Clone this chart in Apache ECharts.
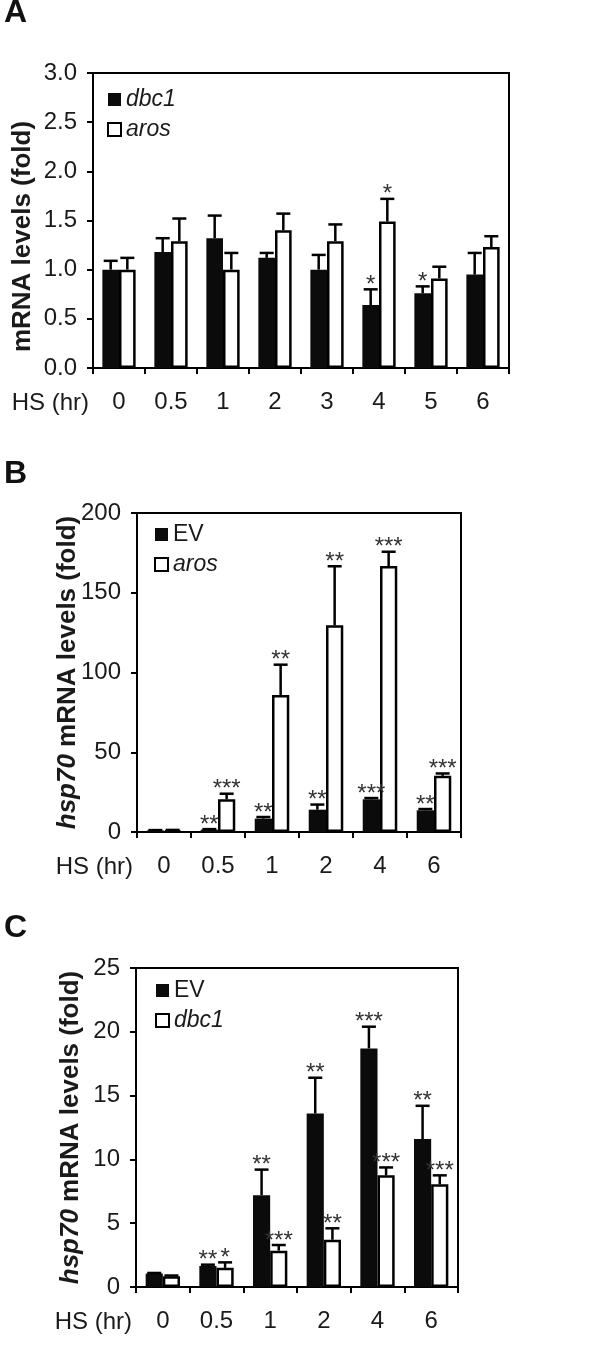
<!DOCTYPE html>
<html>
<head>
<meta charset="utf-8">
<script src="https://cdn.jsdelivr.net/npm/echarts@6/dist/echarts.min.js"></script>
<style>
html,body{margin:0;padding:0;background:#fff;}
#chart{width:611px;height:1353px;}
</style>
</head>
<body>
<div id="chart"></div>
<script>
// ---------- Panel A ----------
const catsA = ['0', '0.5', '1', '2', '3', '4', '5', '6'];
const dbc1A = [1.00, 1.18, 1.32, 1.12, 1.00, 0.64, 0.76, 0.95];
const dbc1AErr = [0.09, 0.14, 0.23, 0.05, 0.15, 0.16, 0.07, 0.22];
const dbc1ASig = ['', '', '', '', '', '*', '*', ''];
const arosA = [1.00, 1.29, 1.00, 1.40, 1.29, 1.49, 0.91, 1.23];
const arosAErr = [0.12, 0.23, 0.17, 0.17, 0.17, 0.23, 0.12, 0.11];
const arosASig = ['', '', '', '', '', '*', '', ''];

// ---------- Panel B ----------
const catsB = ['0', '0.5', '1', '2', '4', '6'];
const evB = [1.0, 1.5, 8.4, 14.0, 20.5, 13.6];
const evBErr = [0.2, 0.3, 1.0, 3.2, 0.8, 0.8];
const evBSig = ['', '**', '**', '**', '***', '**'];
const arosB = [1.0, 20.5, 85.9, 129.6, 166.7, 35.2];
const arosBErr = [0.3, 3.5, 19.0, 37.0, 9.0, 1.5];
const arosBSig = ['', '***', '**', '**', '***', '***'];

// ---------- Panel C ----------
const catsC = ['0', '0.5', '1', '2', '4', '6'];
const evC = [1.05, 1.65, 7.2, 13.6, 18.7, 11.6];
const evCErr = [0.05, 0.1, 2.0, 2.8, 1.7, 2.6];
const evCSig = ['', '**', '**', '**', '***', '**'];
const dbc1C = [0.85, 1.50, 2.85, 3.70, 8.75, 8.05];
const dbc1CErr = [0.05, 0.43, 0.44, 0.90, 0.62, 0.70];
const dbc1CSig = ['', '*', '***', '**', '***', '***'];

const FONT = 'Liberation Sans, Arial, Helvetica, sans-serif';
const TXT = '#1a1a1a';
const BLACK = '#0b0b0b';
const GAP = 0.36;

const chart = echarts.init(document.getElementById('chart'), null, {renderer: 'canvas'});

function xAxisCfg(gi, cats) {
  return {
    type: 'category', gridIndex: gi, data: cats,
    name: 'HS (hr)', nameLocation: 'start', nameGap: 4, nameMoveOverlap: false,
    nameTextStyle: {fontFamily: FONT, fontSize: 24, color: TXT, align: 'right', verticalAlign: 'top', padding: [23, 0, 0, 0]},
    axisLine: {show: true, lineStyle: {color: '#000', width: 2}},
    axisTick: {show: true, length: 6, lineStyle: {color: '#000', width: 2}},
    axisLabel: {fontFamily: FONT, fontSize: 24, color: TXT, margin: 22},
    splitLine: {show: false}
  };
}
function yAxisCfg(gi, max, interval, nameText, gap, fmt, namePad) {
  return {
    type: 'value', gridIndex: gi, min: 0, max: max, interval: interval,
    name: nameText, nameLocation: 'middle', nameGap: gap, nameRotate: 90, nameMoveOverlap: false,
    nameTextStyle: {fontFamily: FONT, fontSize: 26, fontWeight: 'bold', color: TXT, padding: namePad,
      rich: {i: {fontFamily: FONT, fontSize: 26, fontWeight: 'bold', fontStyle: 'italic', color: TXT},
             n: {fontFamily: FONT, fontSize: 26, fontWeight: 'bold', color: TXT}}},
    axisLine: {show: true, lineStyle: {color: '#000', width: 2}},
    axisTick: {show: true, length: 6, lineStyle: {color: '#000', width: 2}},
    axisLabel: {fontFamily: FONT, fontSize: 24, color: TXT, margin: 16, formatter: fmt},
    splitLine: {show: false}
  };
}
function barSeries(name, gi, vals, filled) {
  return {
    name: name, type: 'bar', xAxisIndex: gi, yAxisIndex: gi, data: vals,
    barGap: '0%', barCategoryGap: (GAP * 100) + '%',
    itemStyle: filled ? {color: BLACK, borderColor: BLACK, borderWidth: 0}
                      : {color: '#fff', borderColor: '#000', borderWidth: 2.5},
    emphasis: {disabled: true}, z: 2
  };
}
function errSeries(gi, vals, errs, sigs, side) {
  return {
    type: 'custom', xAxisIndex: gi, yAxisIndex: gi, silent: true, z: 4, clip: false,
    data: vals.map((v, i) => [i, v, errs[i], i]),
    renderItem: function (params, api) {
      const i = api.value(0), v = api.value(1), e = api.value(2);
      const band = api.size([1, 0])[0];
      const bw = band * (1 - GAP) / 2;
      const base = api.coord([i, v]);
      const top = api.coord([i, v + e]);
      const x = base[0] + side * bw / 2;
      const cap = 7;
      const sig = sigs[api.value(3)];
      const children = [
        {type: 'line', shape: {x1: x, y1: base[1], x2: x, y2: top[1]}, style: {stroke: '#000', lineWidth: 2.5}},
        {type: 'line', shape: {x1: x - cap, y1: top[1], x2: x + cap, y2: top[1]}, style: {stroke: '#000', lineWidth: 2.5}}
      ];
      if (sig) {
        children.push({type: 'text', x: x, y: top[1] - 4,
          style: {text: sig, fill: '#333', font: '24px ' + FONT, align: 'center', verticalAlign: 'middle'}});
      }
      return {type: 'group', children: children};
    }
  };
}
function legendCfg(names, left, top) {
  return {
    data: names, left: left, top: top, orient: 'vertical', icon: 'rect', padding: 0,
    itemWidth: 13, itemHeight: 13, itemGap: 7, selectedMode: false,
    formatter: function (n) {
      const s = n.split(':')[1];
      return s === 'EV' ? '{n|' + s + '}' : '{i|' + s + '}';
    },
    textStyle: {fontFamily: FONT, fontSize: 23, color: TXT,
      rich: {i: {fontFamily: FONT, fontSize: 23, fontStyle: 'italic', color: TXT},
             n: {fontFamily: FONT, fontSize: 23, color: TXT}}}
  };
}

const grids = [
  {left: 93, top: 73, width: 416, height: 295},
  {left: 137, top: 513, width: 324, height: 319},
  {left: 136, top: 968, width: 322, height: 319}
].map(g => Object.assign(g, {show: true, borderColor: '#000', borderWidth: 2, containLabel: false}));

const option = {
  animation: false,
  backgroundColor: '#fff',
  grid: grids,
  xAxis: [xAxisCfg(0, catsA), xAxisCfg(1, catsB), xAxisCfg(2, catsC)],
  yAxis: [
    yAxisCfg(0, 3, 0.5, '{n|mRNA levels (fold)}', 57, v => v.toFixed(1), [0, 32, 0, 0]),
    yAxisCfg(1, 200, 50, '{i|hsp70}{n| mRNA levels (fold)}', 56, null, 0),
    yAxisCfg(2, 25, 5, '{i|hsp70}{n| mRNA levels (fold)}', 52, null, 0)
  ],
  legend: [
    legendCfg(['A:dbc1', 'A:aros'], 107, 88),
    legendCfg(['B:EV', 'B:aros'], 154, 523),
    legendCfg(['C:EV', 'C:dbc1'], 155, 979)
  ],
  graphic: [
    {type: 'text', left: 4, top: -3, style: {text: 'A', font: 'bold 32px ' + FONT, fill: '#111'}},
    {type: 'text', left: 4, top: 458, style: {text: 'B', font: 'bold 32px ' + FONT, fill: '#111'}},
    {type: 'text', left: 4, top: 912, style: {text: 'C', font: 'bold 32px ' + FONT, fill: '#111'}}
  ],
  series: [
    barSeries('A:dbc1', 0, dbc1A, true),
    barSeries('A:aros', 0, arosA, false),
    errSeries(0, dbc1A, dbc1AErr, dbc1ASig, -1),
    errSeries(0, arosA, arosAErr, arosASig, 1),
    barSeries('B:EV', 1, evB, true),
    barSeries('B:aros', 1, arosB, false),
    errSeries(1, evB, evBErr, evBSig, -1),
    errSeries(1, arosB, arosBErr, arosBSig, 1),
    barSeries('C:EV', 2, evC, true),
    barSeries('C:dbc1', 2, dbc1C, false),
    errSeries(2, evC, evCErr, evCSig, -1),
    errSeries(2, dbc1C, dbc1CErr, dbc1CSig, 1)
  ]
};
chart.setOption(option);
</script>
</body>
</html>
